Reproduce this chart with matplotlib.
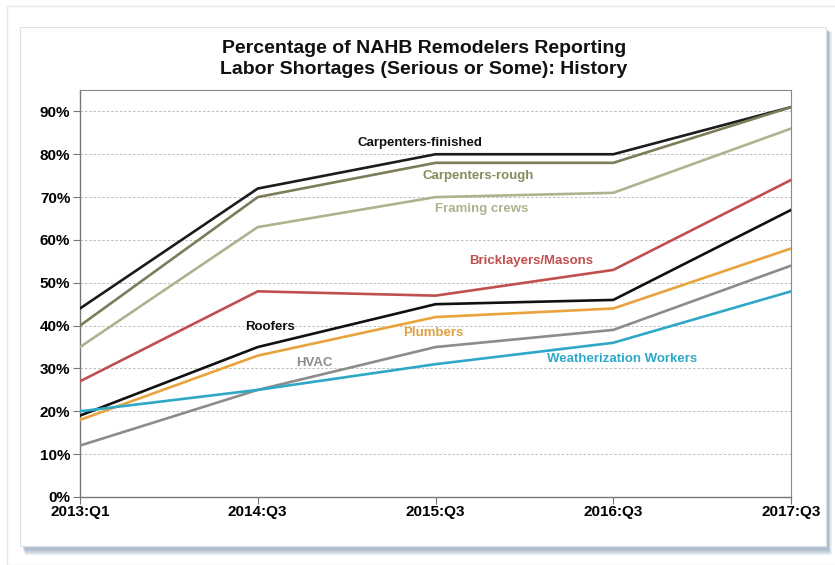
import matplotlib
matplotlib.use("Agg")
import matplotlib.pyplot as plt
from matplotlib.patches import Rectangle
from matplotlib import font_manager as fm

periods = ["2013:Q1", "2014:Q3", "2015:Q3", "2016:Q3", "2017:Q3"]
carp_finished = [44, 72, 80, 80, 91]
carp_rough = [40, 70, 78, 78, 91]
framing = [35, 63, 70, 71, 86]
bricklayers = [27, 48, 47, 53, 74]
roofers = [19, 35, 45, 46, 67]
plumbers = [18, 33, 42, 44, 58]
hvac = [12, 25, 35, 39, 54]
weather = [20, 25, 31, 36, 48]
yticks = [0, 10, 20, 30, 40, 50, 60, 70, 80, 90]

names = [f.name for f in fm.fontManager.ttflist]
narrow = "Liberation Sans Narrow" if "Liberation Sans Narrow" in names else "Liberation Sans"

series = [
    ("Carpenters-finished", carp_finished, "#1c1c1c", "#111111", (1.91, 82.7)),
    ("Carpenters-rough", carp_rough, "#7d7c58", "#8a8a5c", (2.24, 75.0)),
    ("Framing crews", framing, "#aeb38f", "#aeb38f", (2.26, 67.3)),
    ("Bricklayers/Masons", bricklayers, "#c0504d", "#c0504d", (2.54, 55.1)),
    ("Roofers", roofers, "#111111", "#111111", (1.07, 39.7)),
    ("Plumbers", plumbers, "#e8a33c", "#e0a040", (1.99, 38.3)),
    ("HVAC", hvac, "#8c8c8c", "#8c8c8c", (1.32, 31.3)),
    ("Weatherization Workers", weather, "#2fa8c8", "#2fa8c8", (3.05, 32.2)),
]

W, H = 835, 565
fig = plt.figure(figsize=(W / 100, H / 100), dpi=100)
fig.patch.set_facecolor("white")

def px(x0, y0, x1, y1):
    return (x0 / W, 1 - y1 / H, (x1 - x0) / W, (y1 - y0) / H)

# outer faint frame
fig.add_artist(Rectangle((7 / W, 0), 1, 1 - 6 / H, transform=fig.transFigure,
                         fill=False, edgecolor="#e4e8ec", lw=1.0, zorder=0))
# soft card shadow
for i in range(6):
    off = 6 - i
    l, b, w, h = px(22 + off * 0.5, 29 + off * 0.5, 828 + off * 0.6, 549 + off)
    fig.add_artist(Rectangle((l, b), w, h, transform=fig.transFigure,
                             facecolor="#6f8aa8", edgecolor="none", alpha=0.12, zorder=0.5))
l, b, w, h = px(20, 27, 826, 546)
fig.add_artist(Rectangle((l, b), w, h, transform=fig.transFigure,
                         facecolor="white", edgecolor="#dde3ea", lw=0.8, zorder=0.8))

ax = fig.add_axes(px(80, 90, 791, 497))
ax.set_facecolor("none")
ax.set_zorder(2)
x = list(range(len(periods)))
for name, vals, lc, tc, (lx, ly) in series:
    ax.plot(x, vals, color=lc, lw=1.9, solid_joinstyle="miter", zorder=3)
    ax.text(lx, ly, name, color=tc, fontsize=9.5, fontweight="bold",
            ha="center", va="center", family="Liberation Sans", zorder=4)

ax.set_xlim(0, 4)
ax.set_ylim(0, 95)
ax.set_yticks(yticks)
ax.set_yticklabels([f"{v}%" for v in yticks], family=narrow, fontsize=11, fontweight="bold")
ax.set_xticks(x)
ax.set_xticklabels(periods, family=narrow, fontsize=11, fontweight="bold")
ax.grid(axis="y", linestyle=(0, (2.5, 2)), color="#bcbcbc", lw=0.7)
ax.set_axisbelow(True)
for s in ["top", "right"]:
    ax.spines[s].set_color("#8a8a8a")
    ax.spines[s].set_linewidth(0.8)
for s in ["left", "bottom"]:
    ax.spines[s].set_color("#777777")
    ax.spines[s].set_linewidth(1.0)
ax.tick_params(axis="y", length=5, color="#777777", pad=2)
ax.tick_params(axis="x", length=5, color="#777777", pad=1)

fig.text(424 / W, 1 - 59 / H, "Percentage of NAHB Remodelers Reporting\nLabor Shortages (Serious or Some): History",
         ha="center", va="center", fontsize=14, fontweight="bold", family=narrow,
         linespacing=1.25, color="#111111")

fig.savefig("out.png", dpi=100)
